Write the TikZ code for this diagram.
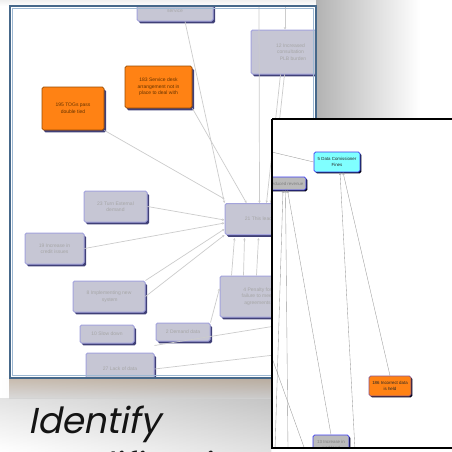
\documentclass[tikz,border=0pt]{standalone}
\usepackage{fontspec}
\setsansfont{Liberation Sans}
\newfontfamily\gothic[FakeSlant=0.2]{Poppins}
\usetikzlibrary{shadows,arrows.meta}

\definecolor{framebl}{HTML}{46688A}
\definecolor{framein}{HTML}{9DB8D2}
\definecolor{nodegray}{HTML}{C6C6D4}
\definecolor{nodeedge}{HTML}{A4A4DC}
\definecolor{orangefill}{HTML}{FF8214}
\definecolor{cyanfill}{HTML}{80FFFF}
\definecolor{edgeblue}{HTML}{3C3CF0}

\tikzset{
  box/.style={rectangle, rounded corners=1.6pt, inner sep=0pt, align=center,
    font=\sffamily\fontsize{4.4}{5.4}\selectfont},
  oldshadow/.style={drop shadow={shadow xshift=2pt, shadow yshift=-2.4pt, fill=black!70!blue, opacity=0.75}},
  newshadow/.style={drop shadow={shadow xshift=1.3pt, shadow yshift=-1.3pt, fill=black!90!blue, opacity=1}},
  oldbox/.style={box, oldshadow, draw=nodeedge, line width=1pt, fill=nodegray, text=black!35,
    font=\sffamily\fontsize{5}{6.5}\selectfont},
  oldorange/.style={box, oldshadow, draw=orange!60!black, line width=0.8pt, fill=orangefill, text=black!60!orange,
    font=\sffamily\fontsize{5}{6.5}\selectfont},
  newgray/.style={box, newshadow, draw=edgeblue, line width=0.6pt, fill=black!27, text=black!50},
  neworange/.style={box, newshadow, draw=edgeblue!60!orange, line width=0.6pt, fill=orangefill, text=black!85},
  newcyan/.style={box, newshadow, draw=edgeblue, line width=0.6pt, fill=cyanfill, text=black!85},
  oldlink/.style={draw=black!20, line width=0.7pt, -{Stealth[length=2.4pt,width=2.4pt]}},
  newlink/.style={draw=black!40, line width=0.35pt, -{Stealth[length=2.6pt,width=2.2pt,open]}},
}

\begin{document}
\begin{tikzpicture}[x=1pt,y=-1pt]
\useasboundingbox (0,0) rectangle (452,451);
\fill[white] (0,0) rectangle (452,451);

% soft shadow round the back window
\shade[top color=black!6, bottom color=white] (0,0) rectangle (330,6);
\shade[left color=black!30, middle color=black!9, right color=white] (316,0) rectangle (420,125);
\shade[left color=white, right color=black!30] (0,378) rectangle (271,451);
\shade[top color=brown!55!black!45, bottom color=black!18, opacity=0.8] (9,379) rectangle (271,398);
\shade[top color=black!18, bottom color=white, opacity=0.6] (0,398) rectangle (271,451);

% ---------------- back window: cause map ----------------
\fill[white] (10,6) rectangle (316,378);
\begin{scope}
\clip (11,7) rectangle (315,377);

\coordinate (topA) at (259,6);
\coordinate (topB) at (285,6);
\coordinate (farA) at (300,352);
\coordinate (farB) at (300,322);

\node[oldbox, minimum width=76pt, minimum height=28pt] (svc) at (175,7) {14 Reduced customer\\service};
\node[oldorange, minimum width=67pt, minimum height=42pt] (desk) at (158.5,87) {183 Service desk\\arrangement not in\\place to deal with};
\node[oldorange, minimum width=62pt, minimum height=43pt] (togs) at (73,108.5) {195 TOGs pass\\double tied};
\node[oldbox, minimum width=63pt, minimum height=31pt] (turn) at (115.5,206.5) {23 Turn External\\demand};
\node[oldbox, minimum width=79pt, minimum height=44pt] (cons) at (290.5,52) {12 Increased\\consultation\\\quad PLB burden};
\node[oldbox, minimum width=75pt, minimum height=31pt] (hub) at (262.5,219) {21 This leads to};
\node[oldbox, minimum width=59pt, minimum height=31pt] (cred) at (54.5,248.5) {19 Increase in\\credit issues};
\node[oldbox, minimum width=72pt, minimum height=31pt] (impl) at (109,296.5) {8 Implementing new\\\ system};
\node[oldbox, minimum width=54pt, minimum height=18pt] (slow) at (107,334) {10 Slow down};
\node[oldbox, minimum width=54pt, minimum height=18pt] (dem) at (183,332) {2 Demand data};
\node[oldbox, minimum width=68pt, minimum height=32pt] (lack) at (120,369) {27 Lack of data};
\node[oldbox, minimum width=75pt, minimum height=41pt] (pen) at (257.5,296.5) {4 Penalty for\\failure to meet\\agreements};

\draw[oldlink] (svc.south) ++(10,0) -- (hub.north west);
\draw[oldlink] (desk.south east) -- ([xshift=-16pt]hub.north);
\draw[oldlink] (togs.south east) -- ([yshift=4pt]hub.north west);
\draw[oldlink] (turn.east) -- ([yshift=-1pt]hub.west);
\draw[oldlink] (cred.east) -- ([yshift=-4pt]hub.west);
\draw[oldlink] (impl.north east) -- ([yshift=-10pt]hub.west);
\draw[oldlink] (impl.east) -- (hub.south west);
\draw[oldlink] (dem.north east) -- ([yshift=8pt]pen.west);
\draw[oldlink] (topA) -- ([xshift=-3pt]hub.north);
\draw[oldlink] (topB) -- ([xshift=-5.5pt]cons.north);
\draw[oldlink] ([xshift=-10pt]cons.south) -- ([xshift=4pt]hub.north);
\draw[oldlink] ([xshift=-6pt]cons.south) -- ([xshift=8pt]hub.north);
\draw[oldlink] ([xshift=-26pt]pen.north) -- ([xshift=-28pt,yshift=-3pt]hub.south);
\draw[oldlink] ([xshift=-14pt]pen.north) -- ([xshift=-18pt,yshift=-3pt]hub.south);
\draw[oldlink] ([xshift=-1pt]pen.north) -- ([xshift=-4pt,yshift=-3pt]hub.south);
\draw[oldlink] (lack.east) -- (farA);
\draw[oldlink] ([yshift=7pt]lack.north east) -- (farB);
\end{scope}
\draw[framein, line width=0.8pt] (12.5,8.5) rectangle (313.5,375.5);
\draw[framebl, line width=2.6pt] (10,6) rectangle (316,378);

% ---------------- front window: detail of the map ----------------
\fill[white] (271,118) rectangle (452,448);
\begin{scope}
\clip (271,118) rectangle (452,448);

\coordinate (inL) at (255,148);
\coordinate (inM) at (262,330);
\coordinate (outA) at (275,450);
\coordinate (outB) at (288,450);
\coordinate (outC) at (355,450);

\node[newgray, minimum width=40pt, minimum height=13pt] (rev) at (286,183.5) {Reduced revenue};
\node[newcyan, minimum width=46pt, minimum height=20pt] (fines) at (337,162) {5 Data Comissioner\\Fines};
\node[neworange, minimum width=42pt, minimum height=20pt] (wrong) at (390,386) {186 Incorrect data\\is held};
\node[newgray, minimum width=36pt, minimum height=20pt] (incr) at (331,445) {13 Increase in\\workload};

\draw[newlink, -] (inL) -- (fines.west);
\draw[newlink] (outC) -- ([xshift=3pt]fines.south);
\draw[newlink] (wrong.north) -- ([xshift=6pt]fines.south);
\draw[newlink] (outA) -- ([xshift=-3pt]rev.south);
\draw[newlink] (outB) -- ([xshift=-0.5pt]rev.south);
\draw[newlink] (incr.north) -- ([xshift=1.5pt]rev.south);
\draw[newlink, -] (inM) -- (305,450);
\end{scope}
\draw[black, line width=2.2pt] (272,119) -- (272,448) -- (460,448);
\draw[black, line width=1.4pt] (272,119) -- (460,119);

% ---------------- slide caption ----------------
\node[anchor=base west, inner sep=0pt, font=\gothic\fontsize{36}{36}\selectfont, text=black!92] (cap) at (28,433) {Identify};
\begin{scope}
\clip (0,440) rectangle (271,451);
\node[anchor=base west, inner sep=0pt, font=\gothic\fontsize{36}{36}\selectfont, text=black!92] (cap2) at (28,478) {modification};
\end{scope}
\end{tikzpicture}
\end{document}
